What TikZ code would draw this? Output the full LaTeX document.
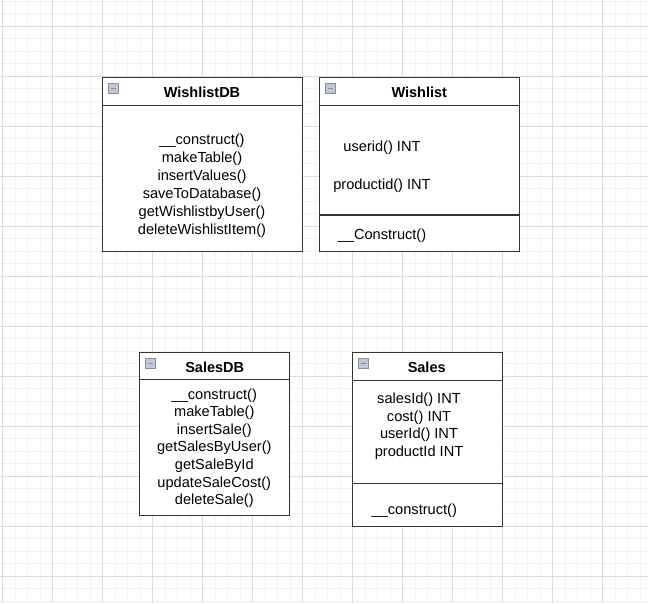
\documentclass[tikz,border=0pt]{standalone}
\usepackage{fontspec}
\setmainfont{Liberation Sans}
\usepackage{xcolor}
\usetikzlibrary{calc}

\definecolor{gridminor}{HTML}{F2F2F2}
\definecolor{gridmajor}{HTML}{DCDCDC}
\definecolor{boxline}{HTML}{333333}
\definecolor{togglefill}{HTML}{C4C8D4}
\definecolor{toggleline}{HTML}{8A8E9A}

\tikzset{
  classbox/.style={draw=boxline, line width=1.2pt, fill=white, inner sep=0pt},
  classtitle/.style={font=\fontsize{14.5}{17}\selectfont\bfseries, inner sep=0pt},
  members/.style={font=\fontsize{14.6}{18}\selectfont, align=center, inner sep=0pt},
  togglebox/.style={draw=toggleline, fill=togglefill, line width=0.8pt,
    minimum size=9.5pt, inner sep=0pt,
    path picture={\draw[line width=1.4pt] ([xshift=2pt]path picture bounding box.west)
      -- ([xshift=-2pt]path picture bounding box.east);}},
}

\begin{document}
\begin{tikzpicture}[x=1pt, y=-1pt]
  \useasboundingbox (0,0) rectangle (648,603);
  \fill[white] (0,0) rectangle (648,603);
  % background grid
  \foreach \gx in {2.5,15,...,647} \draw[gridminor, line width=0.9pt] (\gx,0) -- (\gx,603);
  \foreach \gy in {1,13.5,...,603} \draw[gridminor, line width=0.9pt] (0,\gy) -- (648,\gy);
  \foreach \gx in {2.5,52.5,...,647} \draw[gridmajor, line width=0.9pt] (\gx,0) -- (\gx,603);
  \foreach \gy in {26,76,...,603} \draw[gridmajor, line width=0.9pt] (0,\gy) -- (648,\gy);

  % WishlistDB
  \node[classbox, minimum width=200pt, minimum height=174.4pt] (wdb) at (202.3,164.5) {};
  \draw[boxline, line width=1.2pt] ($(wdb.north west)+(0,28.5)$) -- ($(wdb.north east)+(0,28.5)$);
  \node[togglebox] (wdbtoggle) at (113.3,88.3) {};
  \node[classtitle] (wdbtitle) at (202,92) {WishlistDB};
  \node[members] (wdbops) at (202,185.8) {\_\_construct()\\makeTable()\\insertValues()\\saveToDatabase()\\getWishlistbyUser()\\deleteWishlistItem()};

  % Wishlist
  \node[classbox, minimum width=200pt, minimum height=174.4pt] (wl) at (419.3,164.5) {};
  \draw[boxline, line width=1.2pt] ($(wl.north west)+(0,28.5)$) -- ($(wl.north east)+(0,28.5)$);
  \draw[boxline, line width=1.2pt] ($(wl.south west)+(0,-37.4)$) -- ($(wl.south east)+(0,-37.4)$);
  \node[togglebox] (wltoggle) at (330.3,88.3) {};
  \node[classtitle] (wltitle) at (419.3,92) {Wishlist};
  \node[members] (wluser) at (382,148.2) {userid() INT};
  \node[members] (wlproduct) at (382,185.5) {productid() INT};
  \node[members] (wlops) at (382,235.5) {\_\_Construct()};

  % SalesDB
  \node[classbox, minimum width=150pt, minimum height=163.4pt] (sdb) at (214.3,434) {};
  \draw[boxline, line width=1.2pt] ($(sdb.north west)+(0,27.7)$) -- ($(sdb.north east)+(0,27.7)$);
  \node[togglebox] (sdbtoggle) at (150.3,363.3) {};
  \node[classtitle] (sdbtitle) at (214.7,367) {SalesDB};
  \node[members, font=\fontsize{14.6}{17.6}\selectfont] (sdbops) at (214.3,448.2)
    {\_\_construct()\\makeTable()\\insertSale()\\getSalesByUser()\\getSaleById\\updateSaleCost()\\deleteSale()};

  % Sales
  \node[classbox, minimum width=150pt, minimum height=174.4pt] (sl) at (427.3,439.5) {};
  \draw[boxline, line width=1.2pt] ($(sl.north west)+(0,28.4)$) -- ($(sl.north east)+(0,28.4)$);
  \draw[boxline, line width=1.2pt] ($(sl.south west)+(0,-44)$) -- ($(sl.south east)+(0,-44)$);
  \node[togglebox] (sltoggle) at (363.3,363.3) {};
  \node[classtitle] (sltitle) at (426.7,367) {Sales};
  \node[members, font=\fontsize{14.6}{17.8}\selectfont] (slattrs) at (419,426.3)
    {salesId() INT\\cost() INT\\userId() INT\\productId INT};
  \node[members] (slops) at (414.3,510.4) {\_\_construct()};
\end{tikzpicture}
\end{document}
